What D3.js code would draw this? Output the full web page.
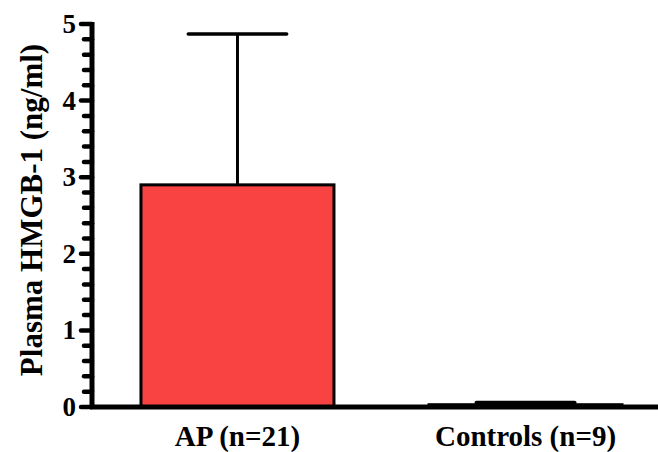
<!DOCTYPE html>
<html>
<head>
<meta charset="utf-8">
<script src="https://cdn.jsdelivr.net/npm/d3@7"></script>
</head>
<body style="margin:0; background:#fff">
<div id="chart"></div>
<script>
// chart data
const groups = ["AP (n=21)", "Controls (n=9)"];
const means = [2.9, 0.03];
const sds = [1.97, 0.03];
const yTicks = [0, 1, 2, 3, 4, 5];

const width = 658, height = 452;
const margin = {top: 24, right: 0, bottom: 45, left: 92};
const serif = "'Liberation Serif', 'Times New Roman', serif";

const svg = d3.select("#chart").append("svg")
    .attr("width", width)
    .attr("height", height);

const x = d3.scaleBand()
    .domain(groups)
    .range([margin.left, 671])
    .paddingInner(0.33)
    .paddingOuter(0.17);

const y = d3.scaleLinear()
    .domain([0, 5])
    .range([height - margin.bottom, margin.top]);

// bars
svg.selectAll(".bar")
    .data(groups)
    .enter().append("rect")
    .attr("class", "bar")
    .attr("x", d => x(d))
    .attr("y", (d, i) => y(means[i]))
    .attr("width", x.bandwidth())
    .attr("height", (d, i) => y(0) - y(means[i]))
    .attr("fill", "#f94242")
    .attr("stroke", "#000")
    .attr("stroke-width", 3);

// error bars (upper only)
const capHalf = x.bandwidth() * 0.255;
groups.forEach((g, i) => {
    const cx = x(g) + x.bandwidth() / 2;
    svg.append("line")
        .attr("x1", cx).attr("x2", cx)
        .attr("y1", y(means[i])).attr("y2", y(means[i] + sds[i]))
        .attr("stroke", "#000").attr("stroke-width", 3);
    svg.append("line")
        .attr("x1", cx - capHalf).attr("x2", cx + capHalf)
        .attr("y1", y(means[i] + sds[i])).attr("y2", y(means[i] + sds[i]))
        .attr("stroke", "#000").attr("stroke-width", 3.5)
        .attr("stroke-linecap", "round");
});

svg.selectAll(".ylab")
    .data(yTicks)
    .enter().append("text")
    .attr("class", "ylab")
    .attr("x", margin.left - 16)
    .attr("y", d => y(d))
    .attr("dy", "0.33em")
    .attr("text-anchor", "end")
    .style("font-family", serif)
    .style("font-weight", "bold")
    .style("font-size", "27px")
    .text(d => d);

svg.selectAll(".xlab")
    .data(groups)
    .enter().append("text")
    .attr("class", "xlab")
    .attr("x", d => x(d) + x.bandwidth() / 2)
    .attr("y", 446)
    .attr("text-anchor", "middle")
    .style("font-family", serif)
    .style("font-weight", "bold")
    .style("font-size", "29px")
    .text(d => d);

// y title
svg.append("text")
    .attr("transform", "translate(42, 210) rotate(-90)")
    .attr("text-anchor", "middle")
    .style("font-family", serif)
    .style("font-weight", "bold")
    .style("font-size", "31px")
    .text("Plasma HMGB-1 (ng/ml)");

// x axis line
svg.append("line")
    .attr("x1", margin.left - 2).attr("x2", width)
    .attr("y1", y(0)).attr("y2", y(0))
    .attr("stroke", "#000").attr("stroke-width", 5);

// y axis: major and minor ticks, drawn last so they sit on top
const minor = y.ticks(25);
svg.selectAll(".ytick")
    .data(minor)
    .enter().append("line")
    .attr("class", "ytick")
    .attr("x1", d => margin.left - (Math.abs(d - Math.round(d)) < 1e-6 ? 11 : 8))
    .attr("x2", margin.left)
    .attr("y1", d => y(d))
    .attr("y2", d => y(d))
    .attr("stroke", "#000")
    .attr("stroke-width", 4.5)
    .attr("stroke-linecap", "round");

svg.append("line")
    .attr("x1", margin.left).attr("x2", margin.left)
    .attr("y1", y(0) + 2).attr("y2", y(5) - 2)
    .attr("stroke", "#000").attr("stroke-width", 5);
</script>
</body>
</html>
